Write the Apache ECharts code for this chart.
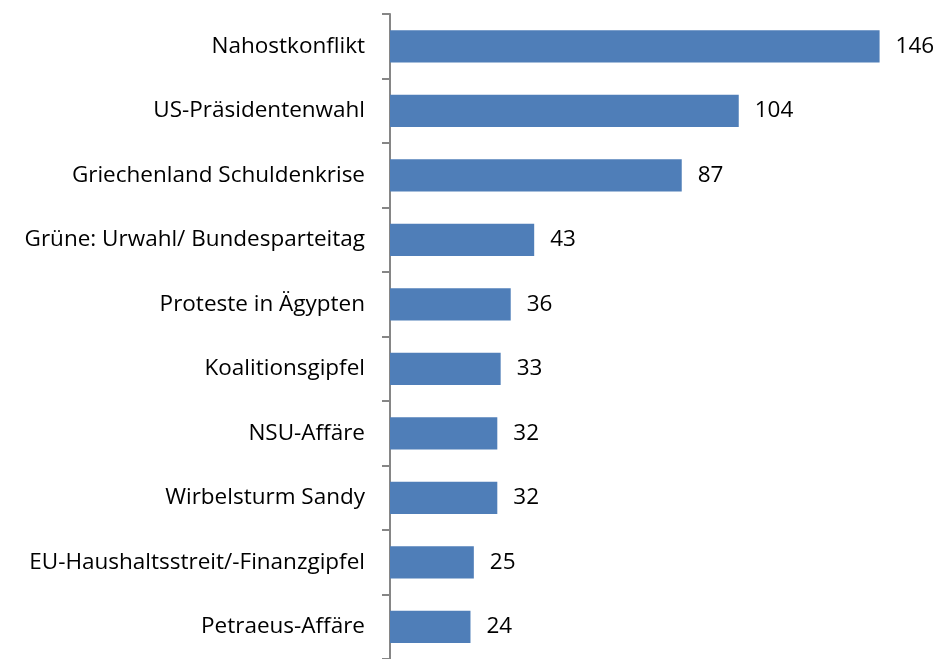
<!DOCTYPE html>
<html>
<head>
<meta charset="utf-8">
<script src="https://cdn.jsdelivr.net/npm/echarts@6/dist/echarts.min.js"></script>
<style>
  html, body { margin: 0; padding: 0; background: #fff; }
  #chart { width: 938px; height: 659px; }
</style>
</head>
<body>
<div id="chart"></div>
<script>
// categories top to bottom
const topics = [
  'Nahostkonflikt',
  'US-Präsidentenwahl',
  'Griechenland Schuldenkrise',
  'Grüne: Urwahl/ Bundesparteitag',
  'Proteste in Ägypten',
  'Koalitionsgipfel',
  'NSU-Affäre',
  'Wirbelsturm Sandy',
  'EU-Haushaltsstreit/-Finanzgipfel',
  'Petraeus-Affäre'
];
const counts = [146, 104, 87, 43, 36, 33, 32, 32, 25, 24];

const chart = echarts.init(document.getElementById('chart'));
const font = '"Open Sans", "Liberation Sans", sans-serif';

chart.setOption({
  animation: false,
  textStyle: { fontFamily: font },
  grid: { left: 390, right: 45, top: 14, bottom: -5, containLabel: false },
  xAxis: {
    type: 'value',
    min: 0,
    max: 150,
    show: false
  },
  yAxis: {
    type: 'category',
    data: topics,
    inverse: true,
    axisLine: { show: true, lineStyle: { color: '#868686', width: 2 } },
    axisTick: { show: true, length: 8, lineStyle: { color: '#868686', width: 2 } },
    axisLabel: { color: '#000', fontSize: 22.5, margin: 25, fontFamily: font, padding: [4, 0, 0, 0] }
  },
  series: [{
    type: 'bar',
    data: counts,
    barWidth: '50%',
    itemStyle: { color: '#4F7EB8' },
    label: {
      show: true,
      position: 'right',
      distance: 16,
      color: '#000',
      fontSize: 22.5,
      fontFamily: font,
      padding: [4, 0, 0, 0]
    }
  }]
});
</script>
</body>
</html>
